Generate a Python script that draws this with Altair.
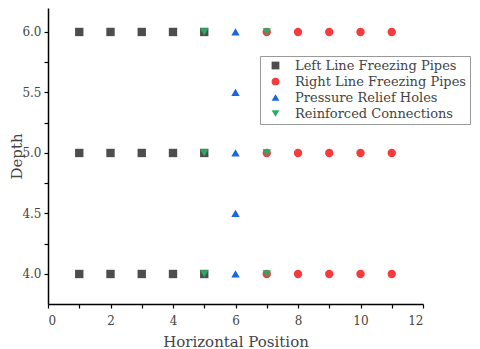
import altair as alt
import pandas as pd

series_names = ["Left Line Freezing Pipes", "Right Line Freezing Pipes",
                "Pressure Relief Holes", "Reinforced Connections"]
left_x = [1, 2, 3, 4, 5] * 3
left_y = [4.0] * 5 + [5.0] * 5 + [6.0] * 5
right_x = [7, 8, 9, 10, 11] * 3
right_y = [4.0] * 5 + [5.0] * 5 + [6.0] * 5
relief_x = [6, 6, 6, 6, 6]
relief_y = [4.0, 4.5, 5.0, 5.5, 6.0]
reinf_x = [5, 7, 5, 7, 5, 7]
reinf_y = [4.0, 4.0, 5.0, 5.0, 6.0, 6.0]

colors = ["#4d4d4d", "#f53b3b", "#1a66e0", "#2ea865"]
shapes = ["square", "circle", "triangle-up", "triangle-down"]

rows = []
for name, xs, ys in zip(series_names, [left_x, right_x, relief_x, reinf_x],
                        [left_y, right_y, relief_y, reinf_y]):
    for x, y in zip(xs, ys):
        rows.append({"Series": name, "x": x, "y": y})
df = pd.DataFrame(rows)

FONT = "DejaVu Serif"
TXT = "#444444"

chart = alt.Chart(df).mark_point(filled=True, size=70, opacity=1).encode(
    x=alt.X("x:Q", title="Horizontal Position",
            scale=alt.Scale(domain=[0, 12], nice=False, zero=False),
            axis=alt.Axis(values=list(range(0, 13)),
                          labelExpr="datum.value % 2 == 0 ? datum.value : ''",
                          grid=False, tickSize=4, labelPadding=7, titlePadding=8)),
    y=alt.Y("y:Q", title="Depth",
            scale=alt.Scale(domain=[3.752, 6.198], nice=False, zero=False),
            axis=alt.Axis(values=[3.75, 4.0, 4.25, 4.5, 4.75, 5.0, 5.25, 5.5, 5.75, 6.0],
                          labelExpr="(datum.value * 2) % 1 == 0 ? format(datum.value, '.1f') : ''",
                          grid=False, tickSize=4, labelPadding=3,
                          titleX=-32, titleY=148, titleAngle=-90,
                          titleAlign="center", titleBaseline="middle")),
    color=alt.Color("Series:N", scale=alt.Scale(domain=series_names, range=colors),
                    legend=alt.Legend(title=None, orient="none", legendX=212, legendY=48,
                                      strokeColor="#999999", padding=3,
                                      labelFont=FONT, labelFontSize=13, labelColor=TXT,
                                      labelLimit=0,
                                      symbolSize=60, rowPadding=2, labelOffset=13,
                                      symbolOffset=6)),
    shape=alt.Shape("Series:N", scale=alt.Scale(domain=series_names, range=shapes)),
    order=alt.Order("ord:Q"),
).transform_calculate(
    ord="datum.Series == 'Reinforced Connections' ? 3 : (datum.Series == 'Pressure Relief Holes' ? 2 : 1)"
).properties(
    width=375, height=296,
    autosize=alt.AutoSizeParams(type="none"),
    padding={"left": 40, "top": 0, "right": 49, "bottom": 45},
).configure_view(stroke=None).configure_axis(
    domainColor="#000000", domainWidth=1.5, tickColor="#000000", tickWidth=1.2,
    labelFont=FONT, labelFontSize=12, labelColor=TXT,
    titleFont=FONT, titleFontSize=15, titleColor=TXT, titleFontWeight="normal",
)

chart.save("out.html", embed_options={"renderer": "svg", "actions": False})
